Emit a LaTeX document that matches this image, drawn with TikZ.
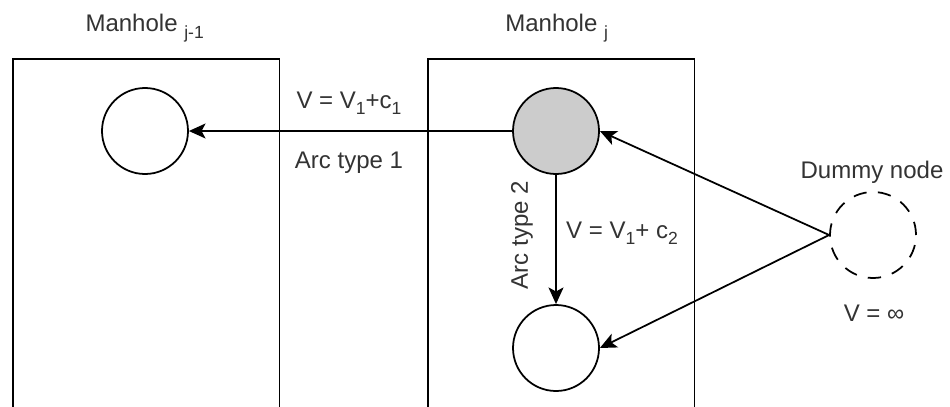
\documentclass[tikz,border=0pt]{standalone}
\usepackage{fontspec}
\setmainfont{Liberation Sans}
\usepackage{tikz}
\usetikzlibrary{arrows.meta,positioning}
\definecolor{node-gray}{RGB}{204,204,204}
\definecolor{text-gray}{RGB}{51,51,51}
\newcommand{\lowsub}[1]{\raisebox{-0.28em}{\fontsize{15}{18}\selectfont #1}}

\begin{document}
\begin{tikzpicture}[
    mhbox/.style = {rectangle, draw, line width=1.5pt, anchor=north west,
                    minimum width=8cm, minimum height=11.6cm},
    vert/.style  = {circle, draw, line width=1.5pt, fill=white,
                    minimum size=2.58cm, inner sep=0pt},
    arrow/.style = {-{Stealth[length=0.5cm, width=0.45cm, inset=0.12cm]},
                    line width=1.5pt},
    txt/.style   = {font=\fontsize{20.5}{24}\selectfont, text=text-gray,
                    inner sep=1pt}
  ]
    \useasboundingbox (0,0) rectangle (28.5,-12.18);

    %% ---- manholes ----
    \node[mhbox] (mhprev) at (0.36,-1.74) {};
    \node[mhbox] (mhcur)  at (12.81,-1.74) {};
    \node[txt] (mhprevlab) at (4.34,-0.84) {Manhole \lowsub{j-1}};
    \node[txt] (mhcurlab)  at (16.7,-0.84) {Manhole \lowsub{j}};

    %% ---- vertices ----
    \node[vert] (prev) at (4.35,-3.93) {};
    \node[vert, fill=node-gray] (cur) at (16.68,-3.93) {};
    \node[vert] (next) at (16.68,-10.44) {};
    \node[vert, dashed, dash pattern=on 0.4cm off 0.34cm] (dummy) at (26.19,-7.05) {};

    %% ---- arcs ----
    \draw[arrow] (cur.west) -- (prev.east);
    \draw[arrow] (cur.south) -- (next.north);
    \draw[arrow] (dummy.west) -- (cur.east);
    \draw[arrow] (dummy.west) -- (next.east);

    %% ---- labels ----
    \node[txt] (v1lab)  at (10.47,-3.1)  {V = V\lowsub{1}+c\lowsub{1}};
    \node[txt] (arc1)   at (10.47,-4.89) {Arc type 1};
    \node[txt, rotate=90] (arc2) at (15.66,-7.05) {Arc type 2};
    \node[txt] (v2lab)  at (18.66,-7.0)  {V = V\lowsub{1}+ c\lowsub{2}};
    \node[txt] (dumlab) at (26.16,-5.16) {Dummy node};
    \node[txt] (inflab) at (26.22,-9.39) {V = ∞};

  \end{tikzpicture}
\end{document}
